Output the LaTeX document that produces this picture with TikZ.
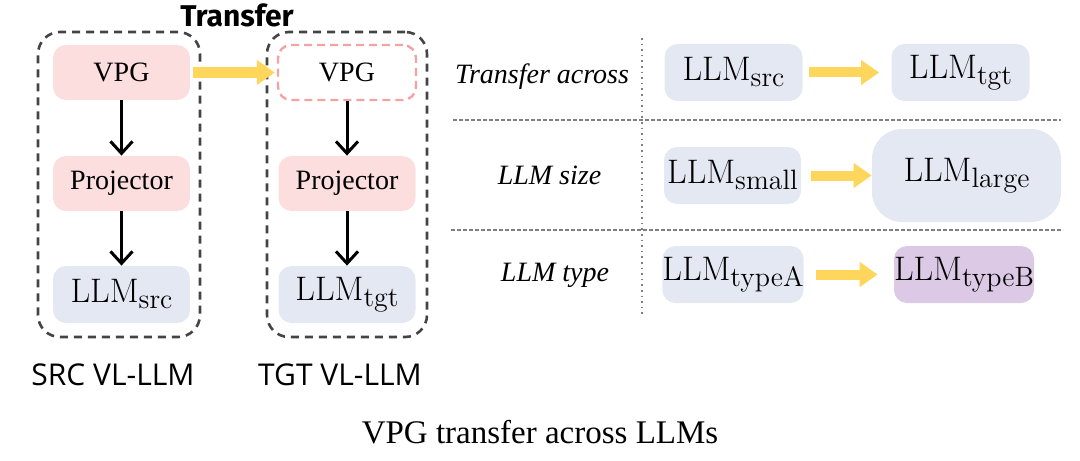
\documentclass[tikz,border=0pt]{standalone}
\usepackage{amsmath}
\usepackage{fontspec}
\usetikzlibrary{arrows.meta}
\newfontfamily\tmsfont{Liberation Serif}
\newfontfamily\opsfont{Open Sans}
\newfontfamily\firafont{Fira Sans}
\definecolor{vpgpink}{HTML}{FCDEDE}
\definecolor{dashpink}{HTML}{F2A3A3}
\definecolor{llmblue}{HTML}{E4E8F2}
\definecolor{typepurple}{HTML}{DCC9E6}
\definecolor{moveyellow}{HTML}{FFD65C}
\definecolor{groupgray}{HTML}{444444}
\newcommand{\llmname}[1]{LLM\raisebox{-3pt}{\fontsize{14}{16}\selectfont #1}}

\begin{document}
\begin{tikzpicture}[
            x=0.5pt, y=-0.5pt,
            pinkbox/.style={fill=vpgpink, rounded corners=6.5pt, minimum width=68.5pt, minimum height=27.5pt, inner sep=0pt, font=\tmsfont\fontsize{14}{16}\selectfont},
            llmbox/.style={fill=llmblue, rounded corners=6.5pt, minimum width=69pt, minimum height=28.5pt, inner sep=0pt, font=\fontsize{17}{20}\selectfont},
            group/.style={draw=groupgray, dash pattern=on 4pt off 3pt, line width=1.3pt, rounded corners=11pt, minimum width=81pt, minimum height=152.5pt},
            rowlabel/.style={font=\tmsfont\itshape\fontsize{14}{16}\selectfont},
            flow/.style={-{Straight Barb[length=6pt,width=11pt]}, line width=1.5pt},
            move/.style={draw=moveyellow, line width=5.5pt, -{Triangle[length=9pt,width=12pt]}},
            divider/.style={draw=gray, line width=0.8pt, dash pattern=on 2pt off 1pt}
        ]
        \useasboundingbox (0,0) rectangle (1080,460);
        \node[group] (G1) at (119,184.5) {};
        \node[group, minimum width=80pt] (G2) at (347,184.5) {};
        \node[font=\firafont\bfseries\fontsize{15}{18}\selectfont] (T) at (237,15) {Transfer};

        \node[pinkbox] (V1) at (121.5,72.5) {VPG};
        \node[pinkbox] (P1) at (121.5,183.5) {Projector};
        \node[llmbox, minimum width=68.5pt] (L1) at (121.5,294.5) {\llmname{src}};
        \node[pinkbox, fill=white, draw=dashpink, dash pattern=on 4pt off 2.5pt, line width=1.2pt, minimum width=69pt] (V2) at (347,72.5) {VPG};
        \node[pinkbox] (P2) at (347,183.5) {Projector};
        \node[llmbox, minimum width=68.5pt] (L2) at (347,294.5) {\llmname{tgt}};

        \draw[flow] (V1) -- (P1);
        \draw[flow] (P1) -- (L1);
        \draw[flow] (V2) -- (P2);
        \draw[flow] (P2) -- (L2);
        \draw[move, shorten <=1.5pt, shorten >=1pt] (V1) -- (V2);

        \node[font=\opsfont\fontsize{15}{18}\selectfont] (S1) at (113,375) {SRC VL-LLM};
        \node[font=\opsfont\fontsize{15}{18}\selectfont] (S2) at (340,375) {TGT VL-LLM};

        \draw[gray, line width=0.8pt, dotted] (642,38) -- (642,315);
        \draw[divider] (453,120) -- (1061,120);
        \draw[divider] (451,230) -- (1063,230);

        \node[rowlabel] (A) at (542,77) {Transfer across};
        \node[llmbox] (A1) at (733.5,72.5) {\llmname{src}};
        \node[llmbox] (A2) at (960.5,72.5) {\llmname{tgt}};
        \draw[move, line width=5pt, shorten <=3pt, shorten >=6pt] (A1) -- (A2);

        \node[rowlabel] (B) at (549.5,175) {LLM size};
        \node[llmbox, minimum width=68.5pt] (B1) at (732.5,175.5) {\llmname{small}};
        \node[llmbox, minimum width=94.5pt, minimum height=46.5pt, rounded corners=15pt] (B2) at (966.5,175.5) {\llmname{large}};
        \draw[move, line width=5pt, shorten <=5pt] (B1) -- (B2);

        \node[rowlabel] (C) at (555,275) {LLM type};
        \node[llmbox] (C1) at (733,274.5) {\llmname{typeA}};
        \node[llmbox, fill=typepurple] (C2) at (964,274.5) {\llmname{typeB}};
        \draw[move, line width=5pt, shorten <=6pt, shorten >=8pt] (C1) -- (C2);

        \node[font=\tmsfont\fontsize{16.5}{19}\selectfont] (cap) at (540,432) {VPG transfer across LLMs};
    \end{tikzpicture}
\end{document}
